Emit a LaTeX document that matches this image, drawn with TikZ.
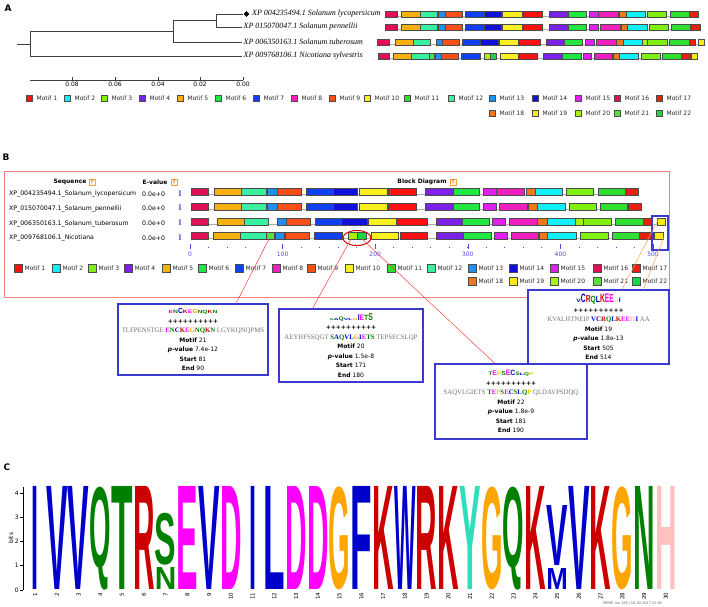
\documentclass[tikz,border=0pt]{standalone}
\usepackage{fontspec}
\setmainfont{DejaVu Sans}
\newfontfamily\seqfont{Liberation Serif}
\newfontfamily\logofont{Liberation Sans}
\usetikzlibrary{shapes.geometric}

% motif colours
\definecolor{m1}{HTML}{FF1010}
\definecolor{m2}{HTML}{10F0F8}
\definecolor{m3}{HTML}{80F010}
\definecolor{m4}{HTML}{7A22E8}
\definecolor{m5}{HTML}{F8B010}
\definecolor{m6}{HTML}{20E840}
\definecolor{m7}{HTML}{1040F0}
\definecolor{m8}{HTML}{F020C0}
\definecolor{m9}{HTML}{F85018}
\definecolor{m10}{HTML}{F8F020}
\definecolor{m11}{HTML}{30E030}
\definecolor{m12}{HTML}{38F0A0}
\definecolor{m13}{HTML}{2090F0}
\definecolor{m14}{HTML}{1010D8}
\definecolor{m15}{HTML}{E020F0}
\definecolor{m16}{HTML}{E01058}
\definecolor{m17}{HTML}{E82010}
\definecolor{m18}{HTML}{F07818}
\definecolor{m19}{HTML}{F8E818}
\definecolor{m20}{HTML}{A8F010}
\definecolor{m21}{HTML}{58E040}
\definecolor{m22}{HTML}{18D848}
\definecolor{boxblue}{HTML}{3A3ACF}
\definecolor{framered}{HTML}{F08080}
\definecolor{axblue}{HTML}{5050E0}
% residue colours
\definecolor{lgB}{HTML}{0000CC}
\definecolor{lgG}{HTML}{008000}
\definecolor{lgR}{HTML}{CC0000}
\definecolor{lgM}{HTML}{FF00FF}
\definecolor{lgO}{HTML}{FFA500}
\definecolor{lgT}{HTML}{33DDBB}
\definecolor{lgP}{HTML}{FFC0C0}
\definecolor{lgY}{HTML}{E8D000}

% residues in the site lines
\newcommand\qB[1]{\textcolor{lgB}{\textbf{#1}}}
\newcommand\qG[1]{\textcolor{lgG}{\textbf{#1}}}
\newcommand\qR[1]{\textcolor{lgR}{\textbf{#1}}}
\newcommand\qM[1]{\textcolor{lgM}{\textbf{#1}}}
\newcommand\qO[1]{\textcolor{lgO}{\textbf{#1}}}
\newcommand\qY[1]{\textcolor{lgY}{\textbf{#1}}}
\newcommand\qP[1]{\textcolor{lgP}{\textbf{#1}}}
\newcommand\flank[1]{\textcolor{black!55}{#1}}
\newcommand\siteline[1]{{\seqfont\fontsize{6.8}{9.5}\selectfont #1}}
\newcommand\plusrow{\textbf{++++++++++}}
% small logo letter: colour, height, letter
\newcommand\lgc[3]{\textcolor{#1}{\scalebox{1.35}[#2]{\logofont\bfseries\fontsize{5}{5}\selectfont #3}}}
% big logo letter
\newcommand\logochar[2]{\if#1I\resizebox*{7pt}{#2pt}{\logofont\bfseries I}\else\resizebox*{21.5pt}{#2pt}{\logofont\bfseries #1}\fi}

% motif rows: start/end/motif, from the sequence start
\newcommand\rowlyc{0/17/16,23/50/5,50/75/12,76/86/13,86/110/9,115/142/7,142/166/14,168/196/10,197/225/1,234/262/4,262/288/6,292/305/15,305/333/8,335/344/18,344/371/2,375/402/3,407/434/11,434/447/17}
\newcommand\rowpen{0/17/16,23/50/5,50/75/12,76/86/13,86/110/9,115/142/7,142/166/14,168/196/10,197/225/1,234/262/4,262/288/6,292/305/15,308/336/8,337/346/18,346/374/2,378/405/3,409/436/11,437/450/17}
\newcommand\rowtub{0/17/16,26/53/5,53/77/12,86/95/13,95/119/9,124/150/7,150/176/14,177/205/10,206/236/1,245/271/4,271/298/6,301/314/15,318/346/8,346/356/18,356/384/2,384/392/20,392/420/3,424/452/11,452/461/17,466/474/19}
\newcommand\rownic{0/17/16,22/49/5,49/75/12,75/83/21,84/93/13,94/118/9,123/151/7,157/166/20,166/175/22,180/207/10,209/236/1,245/272/4,272/300/6,303/316/15,320/347/8,348/356/18,356/385/2,389/417/3,421/448/11,448/462/17,463/472/19}

% y, x, xscale, half height, length, list
\newcommand\blockrow[6]{%
  \begin{scope}[shift={(#2,#1)}, xscale=#3]
    \draw[backbone] (0,#4-1) -- (#5,#4-1);
    \foreach \s/\e/\m in #6 {\draw[motif, fill=m\m] (\s,-#4) rectangle (\e,#4);}
  \end{scope}}

% y, box size, gap, prefix, list n/x
\newcommand\legendrow[5]{%
  \foreach \n/\x in {#5} {
    \node[legbox, fill=m\n, minimum size=#2] (#4\n) at (\x,#1) {};
    \node[legtext] (#4t\n) at ([xshift=#3]#4\n.east) {Motif \n};
  }}

\begin{document}
\begin{tikzpicture}[x=1pt, y=-1pt,
  every node/.style={inner sep=0pt},
  tree/.style={line width=0.8pt, black!75},
  leaf/.style={anchor=west, inner xsep=1.5pt, font=\seqfont\itshape\fontsize{8}{8}\selectfont},
  motif/.style={draw=black!70, line width=0.3pt},
  backbone/.style={draw=gray!65, line width=0.6pt},
  legbox/.style={draw=black!70, line width=0.4pt, anchor=west},
  legtext/.style={anchor=west, font=\fontsize{6}{7}\selectfont, text=black!85},
  panel/.style={font=\bfseries\fontsize{9}{10}\selectfont},
  head/.style={font=\bfseries\fontsize{6}{7}\selectfont},
  smalltext/.style={font=\fontsize{6}{7}\selectfont},
  seqname/.style={anchor=west, font=\fontsize{6.2}{7}\selectfont},
  qmark/.style={draw=orange!75, fill=orange!8, text=orange!85!black, minimum size=6.5, font=\bfseries\fontsize{5}{5}\selectfont},
  infobox/.style={draw=boxblue, line width=1.3pt, fill=white, align=center, font=\fontsize{6}{9.5}\selectfont},
  pointer/.style={draw=red!75, line width=0.5pt},
  zoomline/.style={draw=orange!70, line width=0.5pt},
  logo/.style={anchor=south},
]
\useasboundingbox (0,0) rectangle (708,606);

%% A: tree and motif blocks
\node[panel] (pA) at (8,8) {A};
\coordinate (rt) at (17,44);
\coordinate (j1) at (30,44);
\coordinate (j2) at (173,31.5);
\coordinate (j3) at (216,20.5);
\node[diamond, fill=black, minimum size=6] (mk) at (246.5,14) {};
\node[leaf] (lyc) at (250.5,14) {XP 004235494.1 Solanum lycopersicum};
\node[leaf] (pen) at (242,27) {XP 015070047.1 Solanum pennellii};
\node[leaf] (tub) at (242,42) {XP 006350163.1 Solanum tuberosum};
\node[leaf] (nic) at (242,56) {XP 009768106.1 Nicotiana sylvestris};
\draw[tree] (rt) -- (j1);
\draw[tree] (j1) |- (j2);
\draw[tree] (j1) |- (nic.west);
\draw[tree] (j2) |- (j3);
\draw[tree] (j2) |- (tub.west);
\draw[tree] (j3) |- (mk.west);
\draw[tree] (j3) |- (pen.west);

\draw[tree, line width=0.6pt] (30,80) -- (243,80);
\foreach \v/\x [count=\i] in {0.08/72,0.06/115,0.04/158,0.02/200,0.00/243} {
  \draw[tree, line width=0.6pt] (\x,80) -- (\x,77);
  \node[smalltext, anchor=north] (sc\i) at (\x,81.5) {\v};
}

\blockrow{14}{385}{0.70}{3}{447}{\rowlyc}
\blockrow{27}{385}{0.70}{3}{450}{\rowpen}
\blockrow{42}{377}{0.69}{3}{474}{\rowtub}
\blockrow{56}{378}{0.676}{3}{472}{\rownic}

\legendrow{98}{6}{4}{a}{1/26,2/64,3/101,4/139,5/177,6/215,7/253,8/291,9/329,10/364,11/404,12/448,13/489,14/532,15/575,16/614,17/656}
\legendrow{113}{6}{4}{a}{18/489,19/532,20/575,21/614,22/656}

%% B: block diagram
\node[panel] (pB) at (6,157) {B};
\draw[draw=framered, line width=0.8pt] (4,171) rectangle (669,297);
\node[head] (hseq) at (70,182) {Sequence};
\node[qmark] (q1) at (92,182) {?};
\node[head] (hev) at (155,182) {E-value};
\node[qmark] (q2) at (174,182) {?};
\node[head] (hbd) at (422,182) {Block Diagram};
\node[qmark] (q3) at (453,182) {?};

\foreach \y/\nm [count=\i] in {192/XP\_004235494.1\_Solanum\_lycopersicum,
    206.7/XP\_015070047.1\_Solanum\_pennellii,
    221.4/XP\_006350163.1\_Solanum\_tuberosum,
    236.1/XP\_009768106.1\_Nicotiana} {
  \node[seqname] (sq\i) at (9,\y+2) {\nm};
  \node[seqname] (ev\i) at (142,\y+2) {0.0e+0};
  \node[font=\seqfont\bfseries\fontsize{8.5}{8.5}\selectfont, text=axblue] (dl\i) at (180,\y+1.5) {I};
}

\blockrow{192}{191}{1}{3.5}{447}{\rowlyc}
\blockrow{206.7}{191}{1}{3.5}{450}{\rowpen}
\blockrow{221.4}{191}{1}{3.5}{474}{\rowtub}
\blockrow{236.1}{191}{1}{3.5}{472}{\rownic}

% position axis
\foreach \k in {1,...,24}
  \fill[axblue] ({190+\k*18.52-0.4},246.5) rectangle ++(0.8,1.3);
\foreach \k/\v in {0/0,1/100,2/200,3/300,4/400,5/500} {
  \draw[axblue, line width=0.6pt] ({190+\k*92.6},244) -- ++(0,5);
  \node[smalltext, text=axblue, anchor=north] (ax\k) at ({190+\k*92.6},251.5) {\v};
}

\legendrow{268}{8}{2}{b}{1/14,2/52,3/88,4/124,5/162,6/198,7/235,8/272,9/307,10/345,11/387,12/427,13/468,14/509,15/550,16/593,17/632}
\legendrow{281}{8}{2}{b}{18/468,19/509,20/550,21/593,22/632}

\node[draw=red!85!black, line width=1pt, ellipse, minimum width=28, minimum height=15] (ring) at (357,238) {};
\node[draw=boxblue, line width=1.2pt, minimum width=16, minimum height=34] (sel19) at (660,233) {};
\coordinate (m21) at (269,239);
\coordinate (m20) at (351,239);
\coordinate (m22) at (362,239);
\coordinate (m19a) at (658,220);
\coordinate (m19b) at (664,237);

% sites
\node[infobox, minimum width=150, minimum height=71] (box21) at (193,339.5) {%
  \lgc{lgM}{.9}{E}\lgc{lgG}{1}{N}\lgc{lgB}{1.5}{C}\lgc{lgR}{1}{K}\lgc{lgM}{1}{E}\lgc{lgO}{1.2}{G}\lgc{lgG}{.9}{N}\lgc{lgG}{.9}{Q}\lgc{lgR}{.9}{K}\lgc{lgG}{.9}{N}\\
  \plusrow\\
  \siteline{\flank{TLFPENSTGE} \qM{E}\qG{N}\qB{C}\qR{K}\qM{E}\qO{G}\qG{N}\qG{Q}\qR{K}\qG{N} \flank{LGYKQNQPMS}}\\
  \textbf{Motif} 21\\ \textbf{\textit{p}-value} 7.4e-12\\ \textbf{Start} 81\\ \textbf{End} 90};
\node[infobox, minimum width=144, minimum height=73] (box20) at (351,345.5) {%
  \lgc{lgG}{.5}{S}\lgc{lgB}{.6}{A}\lgc{lgG}{1}{Q}\lgc{lgB}{.6}{V}\lgc{lgB}{.6}{L}\lgc{lgO}{.6}{G}\lgc{lgB}{1.7}{I}\lgc{lgM}{1.6}{E}\lgc{lgG}{1.5}{T}\lgc{lgG}{2}{S}\\
  \plusrow\\
  \siteline{\flank{AEYHFSSQGT} \qG{S}\qB{A}\qG{Q}\qB{V}\qB{L}\qO{G}\qB{I}\qM{E}\qG{T}\qG{S} \flank{TEPSECSLQP}}\\
  \textbf{Motif} 20\\ \textbf{\textit{p}-value} 1.5e-8\\ \textbf{Start} 171\\ \textbf{End} 180};
\node[infobox, minimum width=152, minimum height=75] (box22) at (511,401.5) {%
  \lgc{lgG}{1}{T}\lgc{lgM}{1.4}{E}\lgc{lgY}{1}{P}\lgc{lgG}{1.2}{S}\lgc{lgM}{1.6}{E}\lgc{lgB}{1.5}{C}\lgc{lgG}{1}{S}\lgc{lgB}{.7}{L}\lgc{lgG}{.8}{Q}\lgc{lgY}{.8}{P}\\
  \plusrow\\
  \siteline{\flank{SAQVLGIETS} \qG{T}\qM{E}\qY{P}\qG{S}\qM{E}\qB{C}\qG{S}\qB{L}\qG{Q}\qY{P} \flank{QLDAVPSDQQ}}\\
  \textbf{Motif} 22\\ \textbf{\textit{p}-value} 1.8e-9\\ \textbf{Start} 181\\ \textbf{End} 190};
\node[infobox, minimum width=141, minimum height=74] (box19) at (598.5,327) {%
  \lgc{lgB}{1}{V}\lgc{lgB}{2.4}{C}\lgc{lgR}{2}{R}\lgc{lgG}{1.8}{Q}\lgc{lgB}{1.8}{L}\lgc{lgR}{2.4}{K}\lgc{lgM}{2.5}{E}\lgc{lgM}{2.3}{E}\lgc{lgP}{.8}{H}\lgc{lgB}{1.3}{I}\\
  \plusrow\\
  \siteline{\flank{KVALHTNEIP} \qB{V}\qB{C}\qR{R}\qG{Q}\qB{L}\qR{K}\qM{E}\qM{E}\qP{H}\qB{I} \flank{AA}}\\
  \textbf{Motif} 19\\ \textbf{\textit{p}-value} 1.8e-13\\ \textbf{Start} 505\\ \textbf{End} 514};

\draw[pointer] (m21) -- (box21.40);
\draw[pointer] (m20) -- (box20.136);
\draw[pointer] (m22) -- (box22.113);
\draw[zoomline] (m19a) -- (box19.58);
\draw[zoomline] (m19b) -- (box19.40);

%% C: sequence logo
\node[panel] (pC) at (7,467) {C};
\node[smalltext, rotate=90] (bits) at (11,538) {bits};
\draw[line width=0.6pt] (23,590) -- (23,487);
\foreach \b in {0,...,4} {
  \draw[line width=0.6pt] (20,{590-24.25*\b}) -- (23,{590-24.25*\b});
  \node[smalltext, anchor=east] (yl\b) at (19,{590-24.25*\b}) {\b};
}
\foreach \p/\l/\c in {1/I/lgB,2/V/lgB,3/V/lgB,4/Q/lgG,5/T/lgG,6/R/lgR,8/E/lgM,9/V/lgB,10/D/lgM,11/I/lgB,12/L/lgB,13/D/lgM,14/D/lgM,15/G/lgO,16/F/lgB,17/K/lgR,18/W/lgB,19/R/lgR,20/K/lgR,21/Y/lgT,22/G/lgO,23/Q/lgG,24/K/lgR,26/V/lgB,27/K/lgR,28/G/lgO,29/N/lgG,30/H/lgP}
  \node[logo, text=\c] (c\p) at ({35+(\p-1)*21.75},590) {\logochar{\l}{103}};
\node[logo, text=lgG] (c7a) at (165.5,590) {\logochar{N}{22}};
\node[logo, text=lgG] (c7b) at (165.5,565) {\logochar{S}{52}};
\node[logo, text=lgB] (c25a) at (557,590) {\logochar{M}{21}};
\node[logo, text=lgB] (c25b) at (557,566) {\logochar{V}{60}};
\foreach \i in {1,...,30}
  \node[font=\fontsize{5.5}{6}\selectfont, rotate=90, anchor=east] (n\i) at ({35+(\i-1)*21.75},592.5) {\i};
\node[font=\fontsize{3.5}{4}\selectfont, text=black!60, anchor=west] (stamp) at (603,603.5) {MEME (no SSC) 16.02.2017 22:05};
\end{tikzpicture}
\end{document}
